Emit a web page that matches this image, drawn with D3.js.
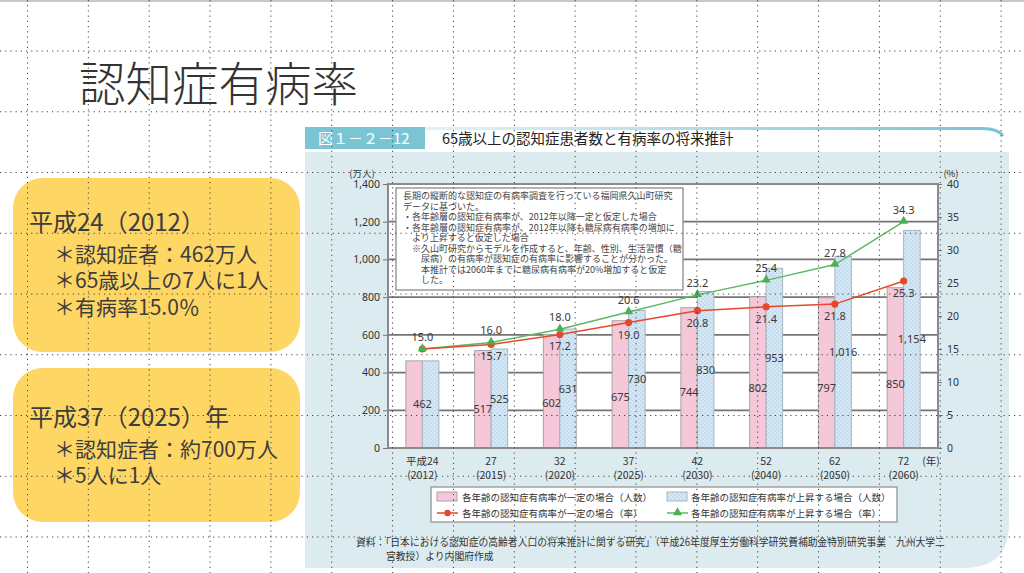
<!DOCTYPE html>
<html>
<head>
<meta charset="utf-8">
<script src="https://cdn.jsdelivr.net/npm/d3@7"></script>
<style>
body { margin:0; background:#fff; }
svg { display:block; font-family:"Noto Sans CJK JP","Noto Sans",sans-serif; }
text { white-space:pre; }
</style>
</head>
<body>
<svg class="slide" width="1024" height="573"></svg>
<script>
// values
var eraLabels  = ["平成24","27","32","37","42","52","62","72"];
var yearLabels = ["(2012)","(2015)","(2020)","(2025)","(2030)","(2040)","(2050)","(2060)"];
var constCount = [462,517,602,675,744,802,797,850];      // 万人
var riseCount  = [462,525,631,730,830,953,1016,1154];    // 万人
var constRate  = [15.0,15.7,17.2,19.0,20.8,21.4,21.8,25.3]; // %
var riseRate   = [15.0,16.0,18.0,20.6,23.2,25.4,27.8,34.3]; // %
var leftTicks  = [0,200,400,600,800,1000,1200,1400];
var rightTicks = [0,5,10,15,20,25,30,35,40];

var noteLines = [
  "長期の縦断的な認知症の有病率調査を行っている福岡県久山町研究",
  "データに基づいた。",
  "・各年齢層の認知症有病率が、2012年以降一定と仮定した場合",
  "・各年齢層の認知症有病率が、2012年以降も糖尿病有病率の増加に",
  "　より上昇すると仮定した場合",
  "　※久山町研究からモデルを作成すると、年齢、性別、生活習慣（糖",
  "　　尿病）の有病率が認知症の有病率に影響することが分かった。",
  "　　本推計では2060年までに糖尿病有病率が20%増加すると仮定",
  "　　した。"
];
var legendLabels = [
  "各年齢の認知症有病率が一定の場合（人数）",
  "各年齢の認知症有病率が上昇する場合（人数）",
  "各年齢の認知症有病率が一定の場合（率）",
  "各年齢の認知症有病率が上昇する場合（率）"
];
var box1Lines = ["平成24（2012）","＊認知症者：462万人","＊65歳以上の7人に1人","＊有病率15.0％"];
var box2Lines = ["平成37（2025）年","＊認知症者：約700万人","＊5人に1人"];
var sourceLines = [
  "資料：「日本における認知症の高齢者人口の将来推計に関する研究」（平成26年度厚生労働科学研究費補助金特別研究事業　九州大学二",
  "宮教授）より内閣府作成"
];

var svg = d3.select("svg.slide");
var defs = svg.append("defs");

// dotted fill for the "rise" bars
var pat = defs.append("pattern").attr("id","dots")
  .attr("width",4).attr("height",4).attr("patternUnits","userSpaceOnUse");
pat.append("rect").attr("width",4).attr("height",4).attr("fill","#d5e8f6");
pat.append("circle").attr("cx",1).attr("cy",1).attr("r",0.6).attr("fill","#8fb8de");
pat.append("circle").attr("cx",3).attr("cy",3).attr("r",0.6).attr("fill","#8fb8de");

var grad = defs.append("linearGradient").attr("id","topline");
grad.append("stop").attr("offset","0%").attr("stop-color","#e4f2f6");
grad.append("stop").attr("offset","100%").attr("stop-color","#79c2d2");

// top strip
svg.append("rect").attr("x",0).attr("y",0).attr("width",1024).attr("height",2).attr("fill","#c9c9c9");

// slide title
svg.append("text").attr("x",79).attr("y",101)
  .style("font-size","46.5px").style("font-weight",300).attr("fill","#333")
  .text("認知症有病率");

// yellow boxes on the left
function infoBox(y, h, lines, firstY) {
  svg.append("rect").attr("x",13).attr("y",y).attr("width",287).attr("height",h)
    .attr("rx",30).attr("fill","#fdd664");
  svg.selectAll(null).data(lines).enter().append("text")
    .attr("x",function(d,i){ return i==0 ? 29 : 54; })
    .attr("y",function(d,i){ return i==0 ? firstY : firstY + 4 + i*26.5; })
    .style("font-size",function(d,i){ return i==0 ? "24px" : "21px"; })
    .attr("fill","#3d3d3d")
    .text(function(d){ return d; });
}
infoBox(178, 174, box1Lines, 231);
infoBox(368, 154, box2Lines, 426);

// chart panel
svg.append("path")
  .attr("d","M305,152 H1009 V523 Q1009,568 964,568 H305 Z")
  .attr("fill","#dbebef");
svg.append("path")
  .attr("d","M425,128.5 H982 Q998,128.5 1003,136")
  .attr("fill","none").attr("stroke","url(#topline)").attr("stroke-width",3);
svg.append("rect").attr("x",305).attr("y",127).attr("width",120).attr("height",22).attr("fill","#7bc4d4");
svg.append("text").attr("x",318).attr("y",144).style("font-size","15px").attr("fill","#fff")
  .text("図１－２－12");
svg.append("text").attr("x",442).attr("y",144).style("font-size","14.5px").attr("fill","#222")
  .text("65歳以上の認知症患者数と有病率の将来推計");

// scales
var x = d3.scaleBand().domain(d3.range(eraLabels.length)).range([388,938]);
var yL = d3.scaleLinear().domain([0,1400]).range([448,184]);
var yR = d3.scaleLinear().domain([0,40]).range([448,184]);
var bw = x.bandwidth()*0.24;
var cx = function(i){ return x(i) + x.bandwidth()/2; };

var plot = svg.append("g");
plot.append("rect").attr("x",388).attr("y",184).attr("width",550).attr("height",264).attr("fill","#fff");

// gridlines
plot.selectAll(".grid").data(leftTicks.slice(1,-1)).enter().append("line")
  .attr("x1",388).attr("x2",938)
  .attr("y1",function(d){ return yL(d); }).attr("y2",function(d){ return yL(d); })
  .attr("stroke","#747474").attr("stroke-width",1.8);

// note box
plot.append("rect").attr("x",396).attr("y",188).attr("width",287).attr("height",102)
  .attr("fill","#fff").attr("stroke","#9a9a9a").attr("stroke-width",1.5);
plot.selectAll(".note").data(noteLines).enter().append("text")
  .attr("x",403).attr("y",function(d,i){ return 199 + i*10.5; })
  .style("font-size","9px").attr("fill","#444")
  .text(function(d){ return d; });

// bars
plot.selectAll(".pink").data(constCount).enter().append("rect")
  .attr("x",function(d,i){ return cx(i) - bw; }).attr("width",bw)
  .attr("y",function(d){ return yL(d); }).attr("height",function(d){ return yL(0) - yL(d); })
  .attr("fill","#f4c8d9").attr("stroke","#aaa2a6").attr("stroke-width",1);
plot.selectAll(".blue").data(riseCount).enter().append("rect")
  .attr("x",function(d,i){ return cx(i); }).attr("width",bw)
  .attr("y",function(d){ return yL(d); }).attr("height",function(d){ return yL(0) - yL(d); })
  .attr("fill","url(#dots)").attr("stroke","#a9b3bb").attr("stroke-width",1);

// frame
plot.append("rect").attr("x",388).attr("y",184).attr("width",550).attr("height",264)
  .attr("fill","none").attr("stroke","#8a8a8a").attr("stroke-width",2);

// axes
var axL = plot.append("g").attr("transform","translate(388,0)")
  .call(d3.axisLeft(yL).tickValues(leftTicks).tickFormat(d3.format(",")).tickSize(5).tickPadding(3));
var axR = plot.append("g").attr("transform","translate(938,0)")
  .call(d3.axisRight(yR).tickValues(rightTicks).tickSize(4).tickPadding(5));
[axL, axR].forEach(function(a){
  a.select(".domain").remove();
  a.selectAll("line").attr("stroke","#777");
  a.selectAll("text").style("font-size","10.5px").attr("fill","#333")
    .style("font-family","'Noto Sans','Noto Sans CJK JP',sans-serif");
});
svg.append("text").attr("x",362).attr("y",177).attr("text-anchor","middle")
  .style("font-size","9.5px").attr("fill","#333").text("(万人)");
svg.append("text").attr("x",951).attr("y",177).attr("text-anchor","middle")
  .style("font-size","9.5px").attr("fill","#333").text("(%)");

// x labels
plot.selectAll(".era").data(eraLabels).enter().append("text")
  .attr("x",function(d,i){ return cx(i); }).attr("y",465).attr("text-anchor","middle")
  .style("font-size","10.5px").attr("fill","#333").text(function(d){ return d; });
plot.selectAll(".yr").data(yearLabels).enter().append("text")
  .attr("x",function(d,i){ return cx(i); }).attr("y",479).attr("text-anchor","middle")
  .style("font-size","10.5px").attr("fill","#333").text(function(d){ return d; });
svg.append("text").attr("x",931).attr("y",465).attr("text-anchor","middle")
  .style("font-size","10.5px").attr("fill","#333").text("(年)");

// lines
var lineR = d3.line().x(function(d,i){ return cx(i); }).y(function(d){ return yR(d); });
plot.append("path").attr("d",lineR(riseRate)).attr("fill","none").attr("stroke","#5dba62").attr("stroke-width",1.5);
plot.append("path").attr("d",lineR(constRate)).attr("fill","none").attr("stroke","#e5482a").attr("stroke-width",1.5);
plot.selectAll(".dot").data(constRate).enter().append("circle")
  .attr("cx",function(d,i){ return cx(i); }).attr("cy",function(d){ return yR(d); })
  .attr("r",3.6).attr("fill","#e5482a");
var tri = d3.symbol().type(d3.symbolTriangle).size(36);
plot.selectAll(".tri").data(riseRate).enter().append("path")
  .attr("d",tri)
  .attr("transform",function(d,i){ return "translate(" + cx(i) + "," + (yR(d)-0.5) + ")"; })
  .attr("fill","#4daf55");

// value labels
var lab = plot.append("g").style("font-size","11px").attr("fill","#3a3a3a")
  .style("font-family","'Noto Sans',sans-serif").attr("text-anchor","middle");
constCount.forEach(function(v,i){
  if (v == riseCount[i]) {
    lab.append("text").attr("x",cx(i)).attr("y",yL(v/2)+4).text(v);
  } else {
    lab.append("text").attr("x",cx(i)-bw/2).attr("y",yL(v*0.4)+4).text(d3.format(",")(v));
    lab.append("text").attr("x",cx(i)+bw/2).attr("y",yL(riseCount[i]*0.5)+4).text(d3.format(",")(riseCount[i]));
  }
});
riseRate.forEach(function(v,i){
  lab.append("text").attr("x",cx(i)).attr("y",yR(v)-8).text(v.toFixed(1));
  if (constRate[i] != v)
    lab.append("text").attr("x",cx(i)).attr("y",yR(constRate[i])+16).text(constRate[i].toFixed(1));
});

// legend
var lg = svg.append("g");
lg.append("rect").attr("x",431).attr("y",487).attr("width",466).attr("height",35)
  .attr("fill","#fff").attr("stroke","#a3a3a3").attr("stroke-width",1.5);
lg.append("rect").attr("x",437).attr("y",492).attr("width",20).attr("height",9)
  .attr("fill","#f4c8d9").attr("stroke","#aaa2a6");
lg.append("rect").attr("x",667).attr("y",492).attr("width",20).attr("height",9)
  .attr("fill","url(#dots)").attr("stroke","#a9b3bb");
lg.append("line").attr("x1",437).attr("x2",458).attr("y1",513).attr("y2",513).attr("stroke","#e5482a").attr("stroke-width",1.5);
lg.append("circle").attr("cx",447.5).attr("cy",513).attr("r",3.2).attr("fill","#e5482a");
lg.append("line").attr("x1",667).attr("x2",688).attr("y1",513).attr("y2",513).attr("stroke","#5dba62").attr("stroke-width",1.5);
lg.append("path").attr("d",tri).attr("transform","translate(677.5,512.5)").attr("fill","#4daf55");
lg.selectAll(".lt").data(legendLabels).enter().append("text")
  .attr("x",function(d,i){ return i%2==0 ? 462 : 691; })
  .attr("y",function(d,i){ return i<2 ? 500.5 : 516.5; })
  .style("font-size","9.5px").attr("fill","#333")
  .text(function(d){ return d; });

// source
svg.selectAll(".src").data(sourceLines).enter().append("text")
  .attr("x",function(d,i){ return i==0 ? 356 : 386; })
  .attr("y",function(d,i){ return 546 + i*14; })
  .style("font-size","9.8px").attr("fill","#333")
  .text(function(d){ return d; });

// slide guide dots over everything
var guide = svg.append("g").attr("stroke","#444").attr("stroke-width",1).attr("stroke-dasharray","1.2 4");
guide.selectAll(".gv").data(d3.range(0,17)).enter().append("line")
  .attr("x1",function(k){ return 27.5 + k*60.85; }).attr("x2",function(k){ return 27.5 + k*60.85; })
  .attr("y1",0).attr("y2",573);
guide.selectAll(".gh").data(d3.range(-2,7)).enter().append("line")
  .attr("y1",function(k){ return 172.5 + k*60.75; }).attr("y2",function(k){ return 172.5 + k*60.75; })
  .attr("x1",0).attr("x2",1024);
</script>
</body>
</html>
